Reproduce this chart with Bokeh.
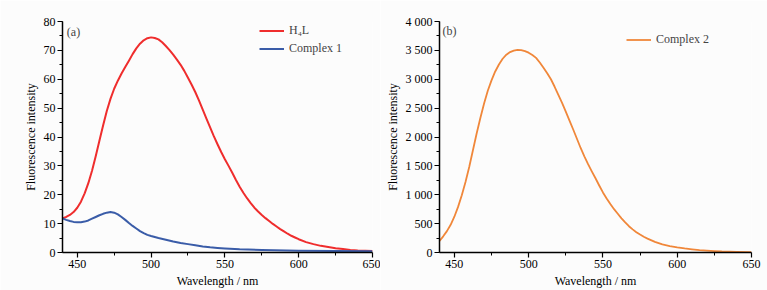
from bokeh.plotting import figure
from bokeh.layouts import row
from bokeh.models import (Range1d, FixedTicker, SingleIntervalTicker, Legend, LegendItem, Label)
from bokeh.embed import file_html
from bokeh.resources import INLINE

# ---------------- data ----------------
h4l_wl = [440, 442.5, 445, 447.5, 450, 452.5, 455, 457.5, 460, 462.5, 465, 467.5, 470,
          472.5, 475, 477.5, 480, 482.5, 485, 487.5, 490, 492.5, 495, 497.5, 500, 502.5,
          505, 507.5, 510, 512.5, 515, 517.5, 520, 522.5, 525, 527.5, 530, 532.5, 535,
          537.5, 540, 542.5, 545, 547.5, 550, 552.5, 555, 557.5, 560, 562.5, 565, 567.5,
          570, 572.5, 575, 577.5, 580, 582.5, 585, 587.5, 590, 592.5, 595, 597.5, 600,
          605, 610, 615, 620, 625, 630, 635, 640, 645, 650]
h4l_val = [11.8, 12.3, 13.0, 14.0, 15.5, 17.6, 20.5, 24.0, 28.3, 33.3, 38.7, 44.0, 49.0,
           53.2, 56.7, 59.5, 62.0, 64.2, 66.4, 68.7, 70.7, 72.3, 73.5, 74.2, 74.5, 74.3,
           73.8, 72.8, 71.5, 70.1, 68.5, 66.8, 65.0, 62.9, 60.5, 58.1, 55.5, 52.6, 49.5,
           46.4, 43.3, 40.3, 37.5, 34.8, 32.3, 30.0, 27.6, 25.1, 22.8, 20.7, 18.8, 17.1,
           15.5, 14.2, 13.0, 11.9, 10.9, 9.9, 9.0, 8.1, 7.3, 6.5, 5.8, 5.2, 4.6,
           3.6, 2.9, 2.3, 1.9, 1.5, 1.2, 0.9, 0.7, 0.6, 0.5]

c1_wl = [440, 442.5, 445, 447.5, 450, 452.5, 455, 457.5, 460, 462.5, 465, 467.5, 470, 472.5,
         475, 477.5, 480, 482.5, 485, 487.5, 490, 492.5, 495, 497.5, 500, 505, 510, 515,
         520, 525, 530, 535, 540, 545, 550, 560, 575, 600, 625, 650]
c1_val = [11.8, 11.3, 10.9, 10.6, 10.5, 10.5, 10.7, 11.1, 11.7, 12.3, 12.9, 13.4, 13.8, 14.0,
          13.8, 13.2, 12.3, 11.3, 10.2, 9.2, 8.3, 7.4, 6.7, 6.1, 5.7, 5.0, 4.4, 3.8,
          3.3, 2.9, 2.5, 2.1, 1.8, 1.6, 1.4, 1.1, 0.9, 0.6, 0.5, 0.4]

c2_wl = [440, 442.5, 445, 447.5, 450, 452.5, 455, 457.5, 460, 462.5, 465, 467.5, 470, 472.5,
         475, 477.5, 480, 482.5, 485, 487.5, 490, 492.5, 495, 497.5, 500, 502.5, 505, 507.5,
         510, 512.5, 515, 517.5, 520, 522.5, 525, 527.5, 530, 532.5, 535, 537.5, 540, 542.5,
         545, 547.5, 550, 552.5, 555, 557.5, 560, 562.5, 565, 567.5, 570, 572.5, 575, 577.5,
         580, 585, 590, 595, 600, 605, 610, 615, 620, 625, 630, 640, 650]
c2_val = [200, 280, 370, 480, 620, 790, 990, 1220, 1480, 1770, 2060, 2330, 2580, 2800,
          2980, 3135, 3255, 3355, 3425, 3470, 3495, 3510, 3505, 3488, 3460, 3420, 3370, 3290,
          3200, 3105, 3000, 2870, 2730, 2590, 2440, 2285, 2130, 1970, 1810, 1665, 1530, 1405,
          1285, 1160, 1040, 935, 840, 750, 670, 590, 520, 455, 400, 352, 310, 272,
          240, 183, 140, 110, 88, 70, 55, 42, 32, 24, 17, 9, 5]

x_ticks = [450, 500, 550, 600, 650]
x_minor = [475, 525, 575, 625]
y2_labels = {0: "0", 500: "500", 1000: "1 000", 1500: "1 500", 2000: "2 000",
             2500: "2 500", 3000: "3 000", 3500: "3 500", 4000: "4 000"}

FONT = "Liberation Serif"
BG = "#fcfcfc"
RED = "#ef2d2d"
BLUE = "#3a5ca8"
ORANGE = "#f0873a"


def style(p, y_interval):
    p.grid.visible = False
    p.outline_line_color = None
    p.background_fill_color = BG
    p.border_fill_color = BG
    p.xaxis.ticker = FixedTicker(ticks=x_ticks, minor_ticks=x_minor)
    p.yaxis.ticker = SingleIntervalTicker(interval=y_interval, num_minor_ticks=2)
    for ax in (p.xaxis[0], p.yaxis[0]):
        ax.axis_line_width = 1.5
        ax.axis_line_color = "black"
        ax.major_tick_line_color = "black"
        ax.minor_tick_line_color = "black"
        ax.major_tick_line_width = 1.2
        ax.minor_tick_line_width = 1.0
        ax.major_tick_in = 0
        ax.major_tick_out = 5
        ax.minor_tick_in = 0
        ax.minor_tick_out = 3
        ax.major_label_text_font = FONT
        ax.major_label_text_font_size = "12px"
        ax.major_label_text_color = "black"
        ax.axis_label_text_font = FONT
        ax.axis_label_text_font_size = "12px"
        ax.axis_label_text_font_style = "normal"
        ax.axis_label_text_color = "black"
        ax.major_label_standoff = 2
        ax.axis_label_standoff = 3
    p.xaxis.axis_label = "Wavelength / nm"
    p.yaxis.axis_label = "Fluorescence intensity"


# ---------------- panel (a) ----------------
p1 = figure(width=380, height=290, output_backend="svg", toolbar_location=None,
            x_range=Range1d(440, 650), y_range=Range1d(0, 80),
            min_border_left=62, min_border_right=8, min_border_top=21, min_border_bottom=38)
style(p1, 10)
r_h4l = p1.line(h4l_wl, h4l_val, line_color=RED, line_width=2, line_join="round")
r_c1 = p1.line(c1_wl, c1_val, line_color=BLUE, line_width=2, line_join="round")

leg1 = Legend(items=[LegendItem(label="H₄L", renderers=[r_h4l]),
                     LegendItem(label="Complex 1", renderers=[r_c1])],
              location=(197, 196), padding=0, margin=0, spacing=3,
              glyph_width=25, glyph_height=15, label_height=15, label_standoff=5,
              label_text_font=FONT, label_text_font_size="12px",
              background_fill_alpha=0, border_line_color=None)
p1.add_layout(leg1)
p1.add_layout(Label(x=11, y=221, x_units="screen", y_units="screen", text="(a)",
                    text_font=FONT, text_font_size="12px", text_align="center",
                    text_baseline="middle"))

# ---------------- panel (b) ----------------
p2 = figure(width=387, height=290, output_backend="svg", toolbar_location=None,
            x_range=Range1d(440, 650), y_range=Range1d(0, 4000),
            min_border_left=59, min_border_right=16, min_border_top=21, min_border_bottom=38)
style(p2, 500)
p2.yaxis.major_label_overrides = y2_labels
r_c2 = p2.line(c2_wl, c2_val, line_color=ORANGE, line_width=1.8, line_join="round")
leg2 = Legend(items=[LegendItem(label="Complex 2", renderers=[r_c2])],
              location=(187, 205), padding=0, margin=0, spacing=3,
              glyph_width=25, glyph_height=15, label_height=15, label_standoff=5,
              label_text_font=FONT, label_text_font_size="12px",
              background_fill_alpha=0, border_line_color=None)
p2.add_layout(leg2)
p2.add_layout(Label(x=10, y=222, x_units="screen", y_units="screen", text="(b)",
                    text_font=FONT, text_font_size="12px", text_align="center",
                    text_baseline="middle"))

layout = row(p1, p2, spacing=0)
open("out.html", "w").write(file_html(layout, INLINE))
